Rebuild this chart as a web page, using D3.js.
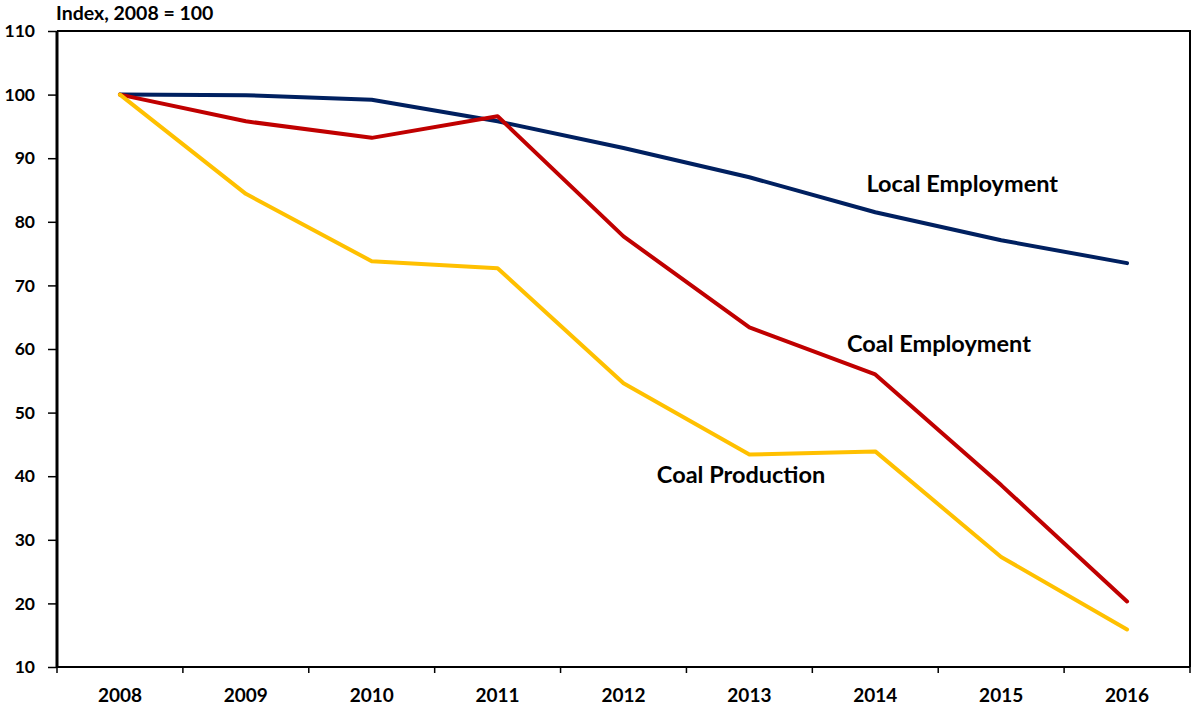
<!DOCTYPE html>
<html><head><meta charset="utf-8">
<script src="https://cdn.jsdelivr.net/npm/d3@7"></script>
<style>body{margin:0;background:#fff}svg{display:block}</style>
</head><body>
<script>
const years = ["2008","2009","2010","2011","2012","2013","2014","2015","2016"];
const localEmployment = [100, 99.9, 99.2, 95.8, 91.6, 87.0, 81.5, 77.1, 73.5];
const coalEmployment = [100, 95.8, 93.2, 96.6, 77.7, 63.4, 56.0, 38.6, 20.3];
const coalProduction = [100, 84.4, 73.8, 72.7, 54.6, 43.4, 43.9, 27.3, 15.9];
const yTicks = [10,20,30,40,50,60,70,80,90,100,110];
const seriesNames = ["Local Employment","Coal Employment","Coal Production"];
const seriesColors = ["#002060","#C00000","#FFC000"];
const labelPos = [{x:2013.93,y:84.7},{x:2013.775,y:59.5},{x:2012.265,y:38.9}];

const W=1192,H=709;
const m={l:57,r:2,t:31,b:42};
const svg=d3.select("body").append("svg").attr("width",W).attr("height",H);
const font="Lato, 'Open Sans', sans-serif";

const x=d3.scaleBand().domain(years).range([m.l,W-m.r]);
const y=d3.scaleLinear().domain([10,110]).range([H-m.b,m.t]);
const cx=d=>x(d)+x.bandwidth()/2;

// frame top & right
svg.append("path").attr("d",`M${m.l},${m.t}H${W-m.r}V${H-m.b}`).attr("fill","none").attr("stroke","#000").attr("stroke-width",2);

// y axis
const ya=svg.append("g").attr("transform",`translate(${m.l},0)`)
  .call(d3.axisLeft(y).tickValues(yTicks).tickSize(9).tickPadding(13));
ya.select(".domain").attr("stroke-width",3).attr("d",`M0,${m.t}V${H-m.b}`);
ya.selectAll(".tick line").attr("stroke-width",1.5);
ya.selectAll("text").attr("font-family",font).attr("font-weight","bold").attr("font-size",17.5).attr("fill","#000");

// x axis
const xa=svg.append("g").attr("transform",`translate(0,${H-m.b})`)
  .call(d3.axisBottom(x).tickSize(0).tickPadding(21.5));
xa.select(".domain").attr("stroke-width",2).attr("d",`M${m.l},0H${W-m.r}`);
xa.selectAll("text").attr("font-family",font).attr("font-weight","bold").attr("font-size",19).attr("fill","#000");
// category boundary ticks
const bounds=years.map(d=>x(d)).concat([W-m.r]);
xa.selectAll(".bt").data(bounds).enter().append("line")
  .attr("x1",d=>d).attr("x2",d=>d).attr("y1",0).attr("y2",6).attr("stroke","#000").attr("stroke-width",1.5);

// title
svg.append("text").attr("x",56).attr("y",20).text("Index, 2008 = 100")
  .attr("font-family",font).attr("font-weight","bold").attr("font-size",19.5);

const data=[localEmployment,coalEmployment,coalProduction];
const line=d3.line().x((d,i)=>cx(years[i])).y(d=>y(d));
data.forEach((s,k)=>{
  svg.append("path").datum(s).attr("d",line).attr("fill","none")
    .attr("stroke",seriesColors[k]).attr("stroke-width",4).attr("stroke-linejoin","round").attr("stroke-linecap","round");
});

// labels
const xl=v=>{const i=Math.floor(v)-2008;return cx(years[i])+(v-Math.floor(v))*x.step();};
labelPos.forEach((p,k)=>{
  svg.append("text").attr("x",xl(p.x)).attr("y",y(p.y)).text(seriesNames[k])
    .attr("font-family",font).attr("font-weight","bold").attr("font-size",23.5).attr("fill","#000");
});
</script>
</body></html>
